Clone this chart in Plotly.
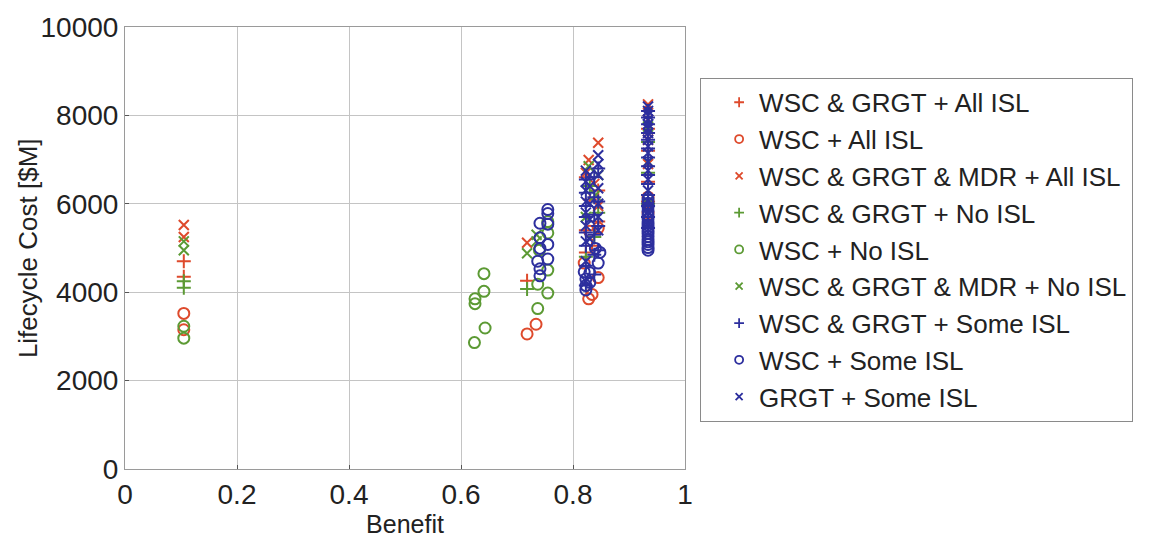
import plotly.graph_objects as go

# ---------------- data ----------------
names = [
    "WSC & GRGT + All ISL",
    "WSC + All ISL",
    "WSC & GRGT & MDR + All ISL",
    "WSC & GRGT + No ISL",
    "WSC + No ISL",
    "WSC & GRGT & MDR + No ISL",
    "WSC & GRGT + Some ISL",
    "WSC + Some ISL",
    "GRGT + Some ISL",
]

x_ticks = [0, 0.2, 0.4, 0.6, 0.8, 1]
x_tick_labels = ["0", "0.2", "0.4", "0.6", "0.8", "1"]
y_ticks = [0, 2000, 4000, 6000, 8000, 10000]
y_tick_labels = ["0", "2000", "4000", "6000", "8000", "10000"]

# WSC & GRGT + All ISL (red +)
x_r_plus = [0.105, 0.105, 0.718, 0.823, 0.823, 0.83, 0.845, 0.845, 0.823, 0.834, 0.934, 0.934, 0.934, 0.934]
y_r_plus = [4700, 4350, 4260, 4900, 5400, 6100, 5600, 6300, 6600, 5050, 6500, 7200, 7700, 6050]

# WSC + All ISL (red o)
x_r_o = [0.105, 0.105, 0.718, 0.734, 0.828, 0.834, 0.845, 0.82, 0.845, 0.83, 0.934, 0.934]
y_r_o = [3520, 3150, 3055, 3275, 3850, 3950, 4330, 4660, 5450, 5380, 5800, 6150]

# WSC & GRGT & MDR + All ISL (red x)
x_r_x = [0.105, 0.105, 0.718, 0.845, 0.828, 0.823, 0.838, 0.845, 0.934, 0.934, 0.934, 0.934]
y_r_x = [5520, 5250, 5120, 7380, 6990, 6700, 6450, 5950, 8250, 7900, 7450, 6900]

# WSC & GRGT + No ISL (green +)
x_g_plus = [0.105, 0.105, 0.718, 0.823, 0.838, 0.845, 0.83, 0.934, 0.934, 0.934]
y_g_plus = [4250, 4100, 4070, 4800, 5250, 5800, 6400, 6000, 6700, 7400]

# WSC + No ISL (green o)
x_g_o = [0.105, 0.105, 0.641, 0.641, 0.625, 0.625, 0.643, 0.624,
         0.737, 0.737, 0.755, 0.755, 0.755, 0.74, 0.755]
y_g_o = [3230, 2960, 4420, 4020, 3850, 3740, 3190, 2860,
         3630, 4180, 3980, 4500, 5340, 4950, 5600]

# WSC & GRGT & MDR + No ISL (green x)
x_g_x = [0.105, 0.105, 0.718, 0.735, 0.735, 0.823, 0.84, 0.828, 0.845, 0.934, 0.934, 0.934]
y_g_x = [5150, 4950, 4880, 5300, 5150, 5700, 6200, 6850, 6650, 6000, 6950, 7750]

# WSC & GRGT + Some ISL (blue +)
x_b_plus = [0.823, 0.823, 0.823, 0.823, 0.823, 0.823, 0.823, 0.823,
            0.838, 0.838, 0.838, 0.838, 0.838, 0.838,
            0.845, 0.845, 0.845, 0.845,
            0.934, 0.934, 0.934, 0.934, 0.934, 0.934, 0.934, 0.934,
            0.934, 0.934, 0.934, 0.934, 0.934, 0.934]
y_b_plus = [4150, 4600, 5050, 5350, 5700, 5950, 6250, 6550,
            4400, 4850, 5300, 5750, 6150, 6600,
            4950, 5500, 6050, 6800,
            5450, 5700, 5950, 6200, 6450, 6650, 6850, 7050,
            7250, 7450, 7600, 7800, 7950, 8100]

# WSC + Some ISL (blue o)
x_b_o = [0.755, 0.755, 0.741, 0.755, 0.741, 0.755, 0.741, 0.755, 0.737, 0.741, 0.741,
         0.823, 0.83, 0.82, 0.845, 0.848, 0.83, 0.823, 0.823, 0.84,
         0.934, 0.934, 0.934, 0.934, 0.934, 0.934, 0.934, 0.934, 0.934,
         0.934, 0.934, 0.934, 0.934, 0.934, 0.934, 0.934, 0.934]
y_b_o = [5870, 5780, 5560, 5540, 5230, 5080, 4990, 4750, 4700, 4530, 4370,
         4050, 4220, 4460, 4660, 4900, 4440, 4300, 4150, 4990,
         4950, 5010, 5080, 5140, 5190, 5260, 5330, 5390, 5450,
         5520, 5590, 5660, 5740, 5830, 5920, 6010, 6100]

# GRGT + Some ISL (blue x)
x_b_x = [0.823, 0.823, 0.823, 0.823, 0.823, 0.823, 0.823, 0.823, 0.823,
         0.83, 0.83, 0.83, 0.83, 0.83,
         0.845, 0.845, 0.845, 0.845, 0.845, 0.845, 0.845,
         0.934, 0.934, 0.934, 0.934, 0.934, 0.934, 0.934, 0.934,
         0.934, 0.934, 0.934, 0.934, 0.934, 0.934, 0.934, 0.934, 0.934]
y_b_x = [4250, 4700, 5150, 5500, 5800, 6050, 6300, 6500, 6750,
         5200, 5650, 6000, 6400, 6650,
         5400, 5700, 6000, 6350, 6650, 6900, 7100,
         5550, 5800, 6050, 6300, 6550, 6750, 6950, 7150,
         7300, 7450, 7600, 7700, 7800, 7900, 8000, 8100, 8200]

# ---------------- styles ----------------
RED = "#de4a2c"
GREEN = "#5c9a34"
BLUE = "#2d2f9e"

series = [
    (names[0], x_r_plus, y_r_plus, "cross-thin-open", RED),
    (names[1], x_r_o, y_r_o, "circle-open", RED),
    (names[2], x_r_x, y_r_x, "x-thin-open", RED),
    (names[3], x_g_plus, y_g_plus, "cross-thin-open", GREEN),
    (names[4], x_g_o, y_g_o, "circle-open", GREEN),
    (names[5], x_g_x, y_g_x, "x-thin-open", GREEN),
    (names[6], x_b_plus, y_b_plus, "cross-thin-open", BLUE),
    (names[7], x_b_o, y_b_o, "circle-open", BLUE),
    (names[8], x_b_x, y_b_x, "x-thin-open", BLUE),
]

fig = go.Figure()
for name, xs, ys, sym, col in series:
    size = 11 if sym == "circle-open" else 10
    fig.add_trace(go.Scatter(
        x=xs, y=ys, mode="markers", name=name, showlegend=False,
        marker=dict(symbol=sym, size=size, color=col, line=dict(color=col, width=2)),
    ))
# legend-only entries with small markers
for name, xs, ys, sym, col in series:
    lsize = 8 if sym == "circle-open" else 7
    fig.add_trace(go.Scatter(
        x=[None], y=[None], mode="markers", name=name, showlegend=True,
        marker=dict(symbol=sym, size=lsize, color=col, line=dict(color=col, width=1.8)),
    ))

FONT = "Liberation Sans, Arial, Helvetica, sans-serif"
axis_common = dict(
    showgrid=True, gridcolor="#c4c4c4", gridwidth=1,
    showline=True, linecolor="#9a9a9a", linewidth=1, mirror=True,
    ticks="inside", ticklen=4, tickcolor="#555555",
    zeroline=False,
    tickfont=dict(size=28, color="#222222", family=FONT),
)

fig.update_layout(
    width=1163, height=541,
    margin=dict(l=125, r=478, t=20, b=65),
    paper_bgcolor="white", plot_bgcolor="white",
    font=dict(family=FONT, color="#222222"),
    xaxis=dict(range=[0, 1], tickvals=x_ticks, ticktext=x_tick_labels,
               title=dict(text="Benefit", font=dict(size=25, family=FONT), standoff=2),
               **axis_common),
    yaxis=dict(range=[0, 10000], tickvals=y_ticks, ticktext=y_tick_labels,
               **axis_common),
    legend=dict(
        x=1.027, y=0.885, xanchor="left", yanchor="top",
        bordercolor="#8a8a8a", borderwidth=1, bgcolor="white",
        font=dict(size=26, family=FONT, color="#222222"),
        tracegroupgap=0, indentation=18, itemwidth=30,
    ),
    annotations=[dict(
        text="Lifecycle Cost [$M]", xref="paper", yref="paper",
        x=-0.173, y=0.5, xanchor="center", yanchor="middle",
        textangle=-90, showarrow=False,
        font=dict(size=26, family=FONT, color="#222222"),
    )],
)

fig.write_html("out.html")
